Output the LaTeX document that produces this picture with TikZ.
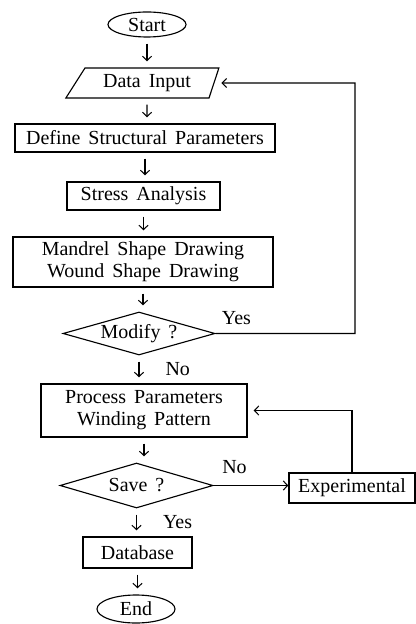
\documentclass[tikz,border=0pt]{standalone}
\usepackage{fontspec}
\setmainfont{Liberation Serif}
\usepackage{tikz}
\usetikzlibrary{arrows.meta, shapes.geometric}
\newcommand{\chartfont}{\fontsize{14.2pt}{15.6pt}\selectfont\spaceskip=0.4em plus 0.1em minus 0.05em\relax}
\tikzstyle{Terminal}=[shape=ellipse, draw=black, line width=0.8pt, inner sep=0pt, font=\chartfont]
\tikzstyle{Process}=[shape=rectangle, draw=black, line width=0.8pt, inner sep=0pt, align=center, font=\chartfont]
\tikzstyle{Input}=[shape=trapezium, trapezium left angle=52, trapezium right angle=112, trapezium stretches=true, draw=black, line width=0.8pt, inner sep=0pt, font=\chartfont]
\tikzstyle{Decision}=[shape=diamond, aspect=3.5, draw=black, line width=0.8pt, inner sep=0pt, font=\chartfont]
\tikzstyle{Label}=[inner sep=0.05cm, text=black, font=\chartfont]
\tikzstyle{arrow}=[line width=0.75pt, >={Straight Barb[length=3.2pt, width=6.5pt]}]
\pgfdeclarelayer{nodelayer}
\pgfdeclarelayer{edgelayer}
\pgfsetlayers{main, nodelayer, edgelayer}

\begin{document}
\begin{tikzpicture}
	\useasboundingbox (0, 0) rectangle (10.4, -15.6);
	\begin{pgfonlayer}{nodelayer}
		% design part
		\node [style=Terminal, minimum width=1.95cm, minimum height=0.625cm] (start) at (3.675, -0.6125) {Start};
		\node [style=Input, minimum width=3.85cm, minimum height=0.75cm] (data_input) at (3.675, -2.075) {Data Input};
		\node [style=Process, minimum width=6.5cm, minimum height=0.7cm] (define_params) at (3.625, -3.45) {Define Structural Parameters};
		\node [style=Process, minimum width=3.825cm, minimum height=0.7cm] (stress) at (3.5875, -4.9) {Stress Analysis};
		\node [style=Process, minimum width=6.5cm, minimum height=1.25cm] (drawing) at (3.575, -6.55) {Mandrel Shape Drawing\\Wound Shape Drawing};
		\node [style=Decision, minimum width=3.8cm, minimum height=1.075cm] (modify) at (3.475, -8.3375) {Modify ?};
		% process part
		\node [style=Process, minimum width=5.15cm, minimum height=1.325cm] (process_params) at (3.6, -10.2625) {Process Parameters\\Winding Pattern};
		\node [style=Decision, minimum width=3.825cm, minimum height=1.125cm] (save) at (3.4125, -12.1375) {Save ?};
		\node [style=Process, minimum width=3.15cm, minimum height=0.75cm] (experimental) at (8.8, -12.2) {Experimental};
		\node [style=Process, minimum width=2.725cm, minimum height=0.775cm] (database) at (3.4375, -13.8125) {Database};
		\node [style=Terminal, minimum width=1.95cm, minimum height=0.7cm] (stop) at (3.4, -15.225) {End};
		\coordinate (yes_corner) at (8.875, -2.075);
	\end{pgfonlayer}
	\begin{pgfonlayer}{edgelayer}
		% main flow
		\draw [->, style=arrow, shorten <=0.15cm, shorten >=0.15cm] (start) -- (start |- data_input.north);
		\draw [->, style=arrow, shorten <=0.15cm, shorten >=0.15cm] (data_input) -- (data_input |- define_params.north);
		\draw [->, style=arrow, shorten <=0.15cm, shorten >=0.15cm] (define_params) -- (define_params |- stress.north);
		\draw [->, style=arrow, shorten <=0.15cm, shorten >=0.15cm] (stress) -- (stress |- drawing.north);
		\draw [->, style=arrow, shorten <=0.15cm, shorten >=0.15cm] (drawing) -- (drawing |- modify.north);
		\draw [->, style=arrow, shorten <=0.15cm, shorten >=0.15cm] (modify) -- node[style=Label, right, xshift=0.6cm] {No} (modify |- process_params.north);
		\draw [->, style=arrow, shorten <=0.15cm, shorten >=0.15cm] (process_params) -- (process_params |- save.north);
		\draw [->, style=arrow, shorten <=0.15cm, shorten >=0.15cm] (save) -- node[style=Label, right, xshift=0.6cm] {Yes} (save |- database.north);
		\draw [->, style=arrow, shorten <=0.15cm, shorten >=0.15cm] (database) -- (database |- stop.north);
		% loops
		\draw [->, style=arrow, shorten >=0.17cm] (modify.east) -| node[style=Label, pos=0.075, above=0.15cm] {Yes} (yes_corner) -- (data_input.east);
		\draw [->, style=arrow] (save.east) -- node[style=Label, pos=0.28, above=0.22cm] {No} (save.east -| experimental.west);
		\draw [->, style=arrow, shorten >=0.15cm] (experimental.north) |- (process_params.east);
	\end{pgfonlayer}
\end{tikzpicture}
\end{document}
